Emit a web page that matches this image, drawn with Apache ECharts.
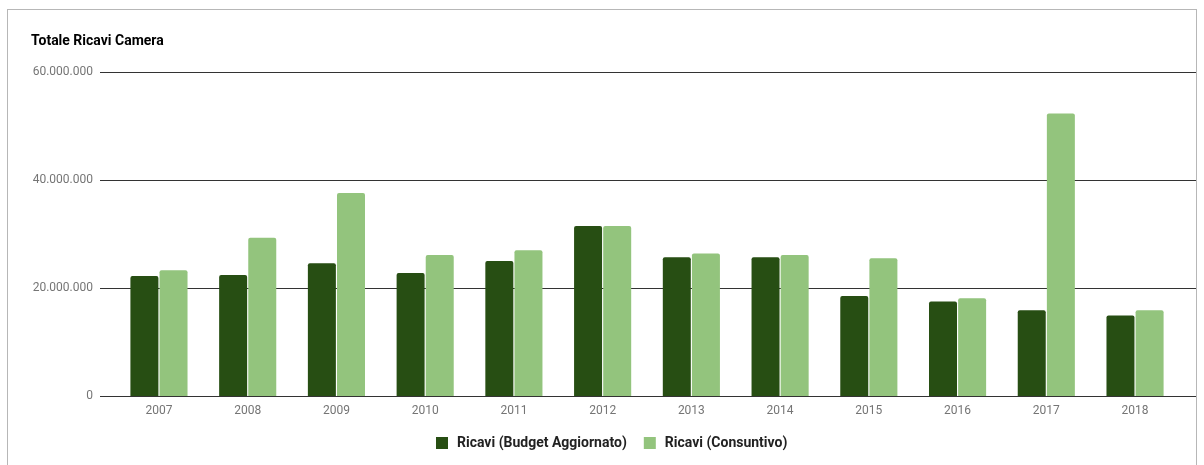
<!DOCTYPE html>
<html><head><meta charset="utf-8">
<script src="https://cdn.jsdelivr.net/npm/echarts@6/dist/echarts.min.js"></script>
<style>
html,body{margin:0;padding:0;background:#fff;}
#frame{position:absolute;left:7px;top:9px;width:1190px;height:470px;border:1px solid #b7b7b7;box-sizing:border-box;}
#c{position:absolute;left:0;top:0;width:1204px;height:465px;}
</style></head>
<body>
<div id="frame"></div>
<div id="c"></div>
<script>
const categories = ['2007','2008','2009','2010','2011','2012','2013','2014','2015','2016','2017','2018'];
const budgetAggiornato = [22200000,22400000,24600000,22800000,25000000,31500000,25700000,25700000,18500000,17500000,15900000,14900000];
const consuntivo = [23300000,29300000,37600000,26100000,27000000,31500000,26400000,26100000,25500000,18100000,52300000,15900000];
const seriesNames = ['Ricavi (Budget Aggiornato)','Ricavi (Consuntivo)'];
const yTicks = {min:0, max:60000000, interval:20000000};

function fmt(v){ return String(Math.round(v)).replace(/\B(?=(\d{3})+(?!\d))/g,'.'); }

const chart = echarts.init(document.getElementById('c'), null, {renderer:'canvas'});
chart.setOption({
  animation:false,
  title:{text:'Totale Ricavi Camera', left:26, top:29, textStyle:{fontFamily:'Roboto', fontSize:14, fontWeight:'bold', color:'#000'}},
  legend:{top:431, left:431, itemWidth:12, itemHeight:12, itemGap:17, icon:'rect',
    textStyle:{fontFamily:'Roboto', fontSize:14, fontWeight:'bold', color:'#222', padding:[0,0,0,4]}},
  grid:[
    {left:114.6, right:24.6, top:72, bottom:69, containLabel:false},
    {left:100, right:8, top:72, bottom:69, containLabel:false}
  ],
  xAxis:[
    {type:'category', gridIndex:0, data:categories, axisLine:{show:false}, axisTick:{show:false},
      axisLabel:{color:'#757575', fontFamily:'Roboto', fontSize:12, margin:9}},
    {type:'value', gridIndex:1, min:0, max:1, show:false}
  ],
  yAxis:[
    {type:'value', gridIndex:0, min:yTicks.min, max:yTicks.max, interval:yTicks.interval, show:false, splitLine:{show:false}},
    {type:'value', gridIndex:1, min:yTicks.min, max:yTicks.max, interval:yTicks.interval,
      axisLine:{show:false}, axisTick:{show:false},
      axisLabel:{color:'#757575', fontFamily:'Roboto', fontSize:12, margin:7, formatter:fmt},
      splitLine:{lineStyle:{color:'#333', width:1}}}
  ],
  series:[
    {name:seriesNames[0], type:'bar', xAxisIndex:0, yAxisIndex:0, data:budgetAggiornato, barWidth:28, barGap:'4%',
      itemStyle:{color:'#274e13', borderRadius:[2,2,0,0]}},
    {name:seriesNames[1], type:'bar', xAxisIndex:0, yAxisIndex:0, data:consuntivo, barWidth:28,
      itemStyle:{color:'#93c47d', borderRadius:[2,2,0,0]}}
  ]
});
</script>
</body></html>
